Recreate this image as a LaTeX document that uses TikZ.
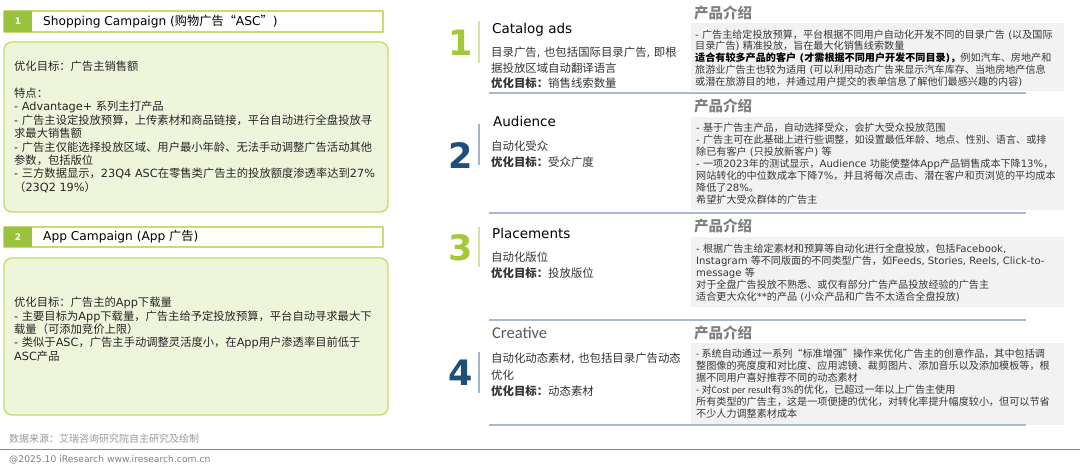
\documentclass[tikz,border=0pt]{standalone}
\usepackage{fontspec}
\usepackage{xcolor}
\usetikzlibrary{positioning}
\setmainfont{DejaVu Sans}
\newfontfamily\cjkfont{Noto Sans CJK SC}
\newfontfamily\calibfont{Carlito}

% runs of CJK characters switch to the CJK family
\XeTeXinterchartokenstate=1
\newXeTeXintercharclass\cjkclass
\newcount\cjkcode
\newcommand\cjkrange[2]{\cjkcode=#1\relax
  \loop\XeTeXcharclass\cjkcode=\cjkclass\relax
  \ifnum\cjkcode<#2\relax\advance\cjkcode by 1\relax\repeat}
\cjkrange{"4E00}{"9FFF}
\cjkrange{"3000}{"303F}
\cjkrange{"FF00}{"FFEF}
\cjkrange{"201C}{"201D}
\XeTeXinterchartoks 0 \cjkclass={\begingroup\cjkfont}
\XeTeXinterchartoks 4095 \cjkclass={\begingroup\cjkfont}
\XeTeXinterchartoks \cjkclass 0={\endgroup}
\XeTeXinterchartoks \cjkclass 4095={\endgroup}

\definecolor{numgreen}{HTML}{A5C83A}
\definecolor{bargreen}{HTML}{D3E4A0}
\definecolor{numblue}{HTML}{1F4E79}
\definecolor{barblue}{HTML}{A3B4CC}
\definecolor{sepblue}{HTML}{A9B8D0}
\definecolor{hdrgreen}{HTML}{9BC23C}
\definecolor{hdredge}{HTML}{C3DE72}
\definecolor{boxfill}{HTML}{EFF5DB}
\definecolor{boxedge}{HTML}{C3DC6C}
\definecolor{introfill}{HTML}{F2F2F2}
\definecolor{introgray}{HTML}{808080}

\begin{document}
\begin{tikzpicture}[x=1pt,y=-1pt,line join=round,
  hdrnum/.style={inner sep=0pt,text=white,font=\bfseries\fontsize{9}{9}\selectfont},
  hdrtitle/.style={anchor=west,inner sep=0pt,font=\fontsize{12.2}{14}\selectfont},
  campbox/.style={draw=boxedge,fill=boxfill,line width=1.4pt,rounded corners=8pt},
  camptxt/.style={anchor=north west,inner sep=0pt,align=left,text=black!85,font=\fontsize{11.3}{13.4}\selectfont},
  bignum/.style={anchor=base west,inner sep=0pt,font=\bfseries\fontsize{35}{35}\selectfont},
  adtitle/.style={anchor=base west,inner sep=0pt,font=\fontsize{13.5}{15}\selectfont},
  adtxt/.style={anchor=north west,inner sep=0pt,align=left,text=black!80,font=\fontsize{11.4}{15.5}\selectfont},
  introhead/.style={anchor=west,inner sep=0pt,text=introgray,font=\bfseries\fontsize{14.5}{15}\selectfont},
  introtxt/.style={anchor=north west,inner sep=0pt,align=left,text=black!78,font=\fontsize{10.1}{12}\selectfont},
  sepline/.style={draw=sepblue,line width=1.3pt},
  bar/.style={line width=2pt}]
  \useasboundingbox (0,0) rectangle (1080,471);

  % left column: campaigns
  \draw[draw=hdredge,line width=1.2pt,fill=white] (4,11) rectangle (383,32);
  \fill[hdrgreen] (4,11) rectangle (32,32);
  \node[hdrnum] (hn1) at (18,21.5) {1};
  \node[hdrtitle] (ht1) at (43,21.5) {Shopping Campaign (购物广告“ASC”)};
  \draw[campbox] (4,42) rectangle (388,212);
  \node[camptxt] (ct1) at (14,60.9) {优化目标：广告主销售额\\[13.4pt]%
特点：\\
- Advantage+ 系列主打产品\\
- 广告主设定投放预算，上传素材和商品链接，平台自动进行全盘投放寻\\
求最大销售额\\
- 广告主仅能选择投放区域、用户最小年龄、无法手动调整广告活动其他\\
参数，包括版位\\
- 三方数据显示，23Q4 ASC在零售类广告主的投放额度渗透率达到27\%\\
（23Q2 19\%）};

  \draw[draw=hdredge,line width=1.2pt,fill=white] (4,227) rectangle (383,247);
  \fill[hdrgreen] (4,227) rectangle (32,247);
  \node[hdrnum] (hn2) at (18,237) {2};
  \node[hdrtitle] (ht2) at (43,237) {App Campaign (App 广告)};
  \draw[campbox] (4,258) rectangle (388,415);
  \node[camptxt] (ct2) at (14,296.9) {优化目标：广告主的App下载量\\
- 主要目标为App下载量，广告主给予定投放预算，平台自动寻求最大下\\
载量（可添加竞价上限）\\
- 类似于ASC，广告主手动调整灵活度小，在App用户渗透率目前低于\\
ASC产品};

  % right column: ad products
  \fill[introfill] (691,23) rectangle (1064,91);
  \fill[introfill] (691,117) rectangle (1064,210);
  \fill[introfill] (691,237) rectangle (1064,307);
  \fill[introfill] (691,343) rectangle (1064,425);
  \draw[sepline] (489,93) -- (1026,93);
  \draw[sepline] (489,213) -- (1026,213);
  \draw[sepline] (489,320) -- (1026,320);
  \draw[sepline] (489,425) -- (1026,425);
  \draw[bar,bargreen] (479,21) -- (479,63);
  \draw[bar,barblue] (479,124) -- (479,165);
  \draw[bar,bargreen] (479,227) -- (479,267);
  \draw[bar,barblue] (479,352) -- (479,393);

  \node[bignum,text=numgreen] (bn1) at (448,55) {1};
  \node[adtitle] (at1) at (492,33) {Catalog ads};
  \node[adtxt] (ad1) at (491,46.9) {目录广告, 也包括国际目录广告, 即根\\
据投放区域自动翻译语言\\
\textbf{优化目标：}销售线索数量};
  \node[introhead] (ih1) at (694,13) {产品介绍};
  \node[introtxt,font=\fontsize{10.1}{11.8}\selectfont] (it1) at (695,29.4) {- 广告主给定投放预算，平台根据不同用户自动化开发不同的目录广告 (以及国际\\
目录广告) 精准投放，旨在最大化销售线索数量\\
\textbf{\color{black}适合有较多产品的客户 (才需根据不同用户开发不同目录)，}例如汽车、房地产和\\
旅游业广告主也较为适用 (可以利用动态广告来显示汽车库存、当地房地产信息\\
或潜在旅游目的地，并通过用户提交的表单信息了解他们最感兴趣的内容)};

  \node[bignum,text=numblue] (bn2) at (448,168) {2};
  \node[adtitle] (at2) at (493,126) {Audience};
  \node[adtxt] (ad2) at (491,140.9) {自动化受众\\
\textbf{优化目标：}受众广度};
  \node[introhead] (ih2) at (694,106) {产品介绍};
  \node[introtxt] (it2) at (696,122.4) {- 基于广告主产品，自动选择受众，会扩大受众投放范围\\
- 广告主可在此基础上进行些调整，如设置最低年龄、地点、性别、语言、或排\\
除已有客户 (只投放新客户) 等\\
- 一项2023年的测试显示，Audience 功能使整体App产品销售成本下降13\%，\\
网站转化的中位数成本下降7\%，并且将每次点击、潜在客户和页浏览的平均成本\\
降低了28\%。\\
希望扩大受众群体的广告主};

  \node[bignum,text=numgreen] (bn3) at (448,260) {3};
  \node[adtitle] (at3) at (492,238) {Placements};
  \node[adtxt] (ad3) at (491,251.9) {自动化版位\\
\textbf{优化目标：}投放版位};
  \node[introhead] (ih3) at (694,226) {产品介绍};
  \node[introtxt] (it3) at (696,243.4) {- 根据广告主给定素材和预算等自动化进行全盘投放，包括Facebook,\\
Instagram 等不同版面的不同类型广告，如Feeds, Stories, Reels, Click-to-\\
message 等\\
对于全盘广告投放不熟悉、或仅有部分广告产品投放经验的广告主\\
适合更大众化**的产品 (小众产品和广告不太适合全盘投放)};

  \node[bignum,text=numblue] (bn4) at (448,385) {4};
  \node[adtitle,text=black!65,font=\calibfont\fontsize{16.5}{18}\selectfont] (at4) at (492,338) {Creative};
  \node[adtxt,font=\fontsize{11.4}{16.5}\selectfont] (ad4) at (491,352.9) {自动化动态素材, 也包括目录广告动态\\
优化\\
\textbf{优化目标：}动态素材};
  \node[introhead] (ih4) at (694,333) {产品介绍};
  \node[introtxt,font=\calibfont\fontsize{10.1}{12}\selectfont] (it4) at (696,348.4) {- 系统自动通过一系列“标准增强”操作来优化广告主的创意作品，其中包括调\\
整图像的亮度度和对比度、应用滤镜、裁剪图片、添加音乐以及添加模板等，根\\
据不同用户喜好推荐不同的动态素材\\
- 对Cost per result有3\%的优化，已超过一年以上广告主使用\\
所有类型的广告主，这是一项便捷的优化，对转化率提升幅度较小，但可以节省\\
不少人力调整素材成本};

  % footer
  \node[anchor=west,inner sep=0pt,text=black!40,font=\fontsize{10}{12}\selectfont] (src) at (9,439) {数据来源：艾瑞咨询研究院自主研究及绘制};
  \draw[black!45,line width=1pt] (0,449) -- (1080,449);
  \node[anchor=west,inner sep=0pt,text=black!50,font=\fontsize{9.2}{11}\selectfont] (copy) at (9,460) {@2025.10 iResearch www.iresearch.com.cn};
\end{tikzpicture}
\end{document}
